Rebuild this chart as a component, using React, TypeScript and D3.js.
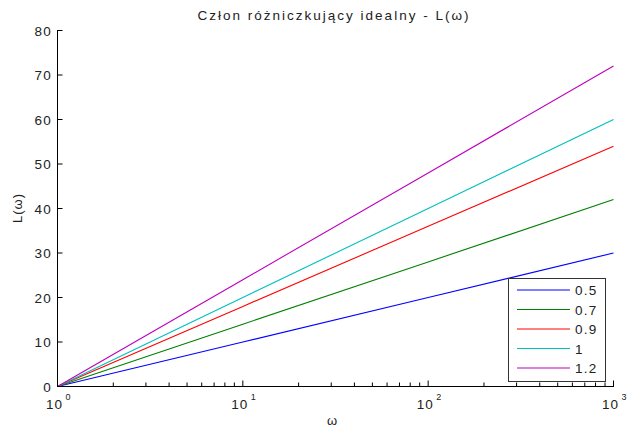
import React from "react";
import * as d3 from "d3";

const omega = [1, 10, 100, 1000];
const seriesLabels = ["0.5", "0.7", "0.9", "1", "1.2"];
const seriesValues = [
  [0, 10, 20, 30],
  [0, 14, 28, 42],
  [0, 18, 36, 54],
  [0, 20, 40, 60],
  [0, 24, 48, 72],
];
const seriesColors = ["#0000ff", "#008000", "#ff0000", "#00bfbf", "#bf00bf"];
const yTicks = [0, 10, 20, 30, 40, 50, 60, 70, 80];
const xMajor = [1, 10, 100, 1000];
const xExp = ["0", "1", "2", "3"];

export default function App() {
  const W = 627, H = 432;
  const x = d3.scaleLog().domain([1, 1000]).range([57.5, 613.5]);
  const y = d3.scaleLinear().domain([0, 80]).range([386.5, 30.5]);
  const line = d3.line<number>().x((_, i) => x(omega[i])).y((d) => y(d));
  const minor: number[] = [];
  for (let dec = 1; dec < 1000; dec *= 10) for (let k = 2; k <= 9; k++) minor.push(dec * k);
  const font = "'Liberation Sans', Arial, sans-serif";
  const lg = { x: 508.5, y: 278.5, w: 97, h: 103 };
  return (
    <svg width={W} height={H} style={{ position: "absolute", left: 0, top: 0, background: "#fff" }} fontFamily={font}>
      <rect x={0} y={0} width={W} height={H} fill="#fff" />
      <text x={334} y={20} textAnchor="middle" fontSize={13.5} letterSpacing={2} fill="#222">Człon różniczkujący idealny - L(ω)</text>
      {seriesValues.map((vals, i) => (
        <path key={i} d={line(vals) || ""} fill="none" stroke={seriesColors[i]} strokeWidth={1.1} />
      ))}
      <line x1={57.5} y1={30} x2={57.5} y2={387} stroke="#000" />
      <line x1={57} y1={386.5} x2={614} y2={386.5} stroke="#000" />
      {yTicks.map((t) => (
        <g key={t}>
          <line x1={57.5} x2={62.5} y1={y(t)} y2={y(t)} stroke="#000" />
          <text x={52} y={y(t) + 5} textAnchor="end" fontSize={13.5} letterSpacing={1.2} fill="#222">{t}</text>
        </g>
      ))}
      {minor.map((m) => (
        <line key={m} x1={x(m)} x2={x(m)} y1={386.5} y2={382.5} stroke="#000" />
      ))}
      {xMajor.map((m, i) => (
        <g key={m}>
          <line x1={x(m)} x2={x(m)} y1={386.5} y2={380.5} stroke="#000" />
          <text x={x(m) - 3} y={409} textAnchor="middle" fontSize={13.5} letterSpacing={1} fill="#222">10</text>
          <text x={x(m) + 10.5} y={400} textAnchor="middle" fontSize={9} fill="#222">{xExp[i]}</text>
        </g>
      ))}
      <text x={332} y={425} textAnchor="middle" fontSize={13} fill="#222">ω</text>
      <text transform="translate(22,208) rotate(-90)" textAnchor="middle" fontSize={13} letterSpacing={1} fill="#222">L(ω)</text>
      <rect x={lg.x} y={lg.y} width={lg.w} height={lg.h} fill="#fff" stroke="#333" />
      {seriesLabels.map((s, i) => {
        const yy = 290 + i * 19.5;
        return (
          <g key={s}>
            <line x1={517} x2={570} y1={yy} y2={yy} stroke={seriesColors[i]} />
            <text x={575} y={yy + 5} fontSize={13.5} letterSpacing={1.2} fill="#222">{s}</text>
          </g>
        );
      })}
    </svg>
  );
}
